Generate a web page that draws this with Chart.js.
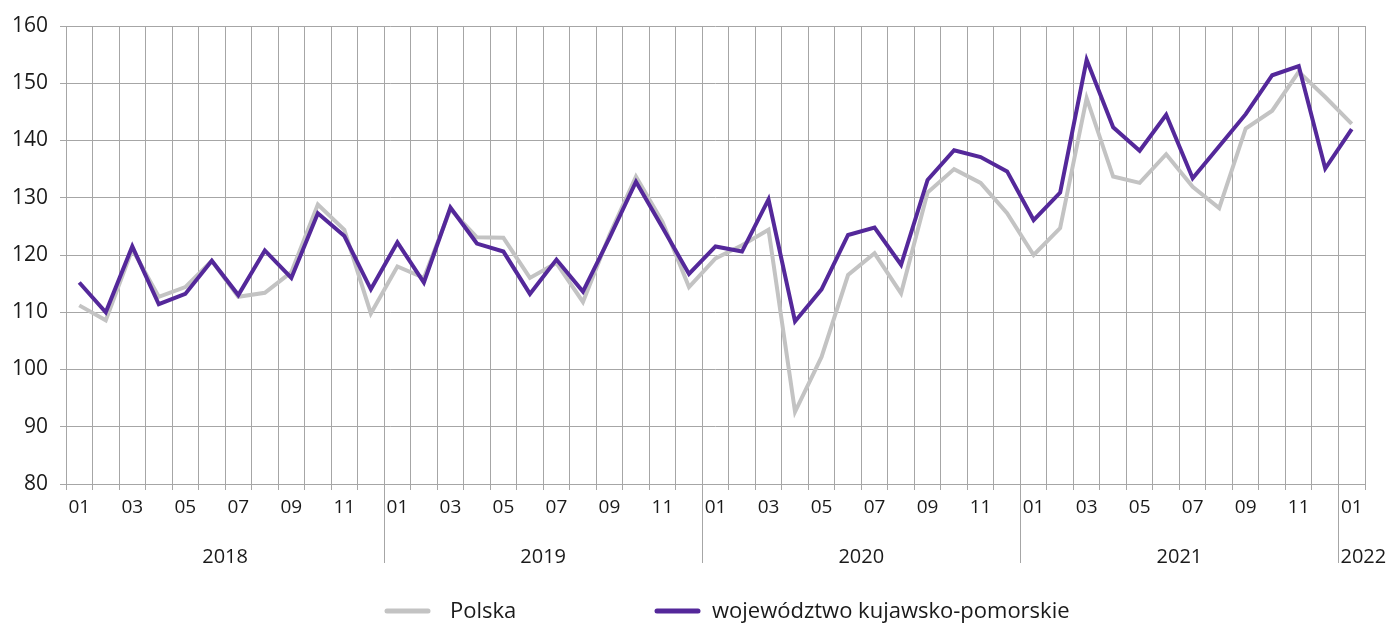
<!DOCTYPE html>
<html>
<head>
<meta charset="utf-8">
<script src="https://cdn.jsdelivr.net/npm/chart.js@4"></script>
<style>
  html, body { margin: 0; padding: 0; background: #fff; }
  #wrap { width: 1394px; height: 626px; }
</style>
</head>
<body>
<div id="wrap"><canvas id="chart" width="1394" height="626"></canvas></div>
<script>
const years = ['2018', '2019', '2020', '2021', '2022'];
const monthLabels = ['01', '02', '03', '04', '05', '06', '07', '08', '09', '10', '11', '12'];
const monthsInYear = [12, 12, 12, 12, 1];

const polska = [
  111.2, 108.6, 121.0, 112.7, 114.4, 119.0, 112.7, 113.4, 117.0, 128.8, 124.4, 109.8,
  118.0, 116.0, 128.0, 123.1, 123.0, 116.0, 118.6, 111.8, 123.5, 133.7, 125.8, 114.4,
  119.4, 121.7, 124.4, 92.6, 102.2, 116.5, 120.3, 113.3, 130.9, 135.0, 132.6, 127.3,
  120.0, 124.7, 147.4, 133.7, 132.6, 137.6, 131.9, 128.2, 142.1, 145.2, 152.0, 147.6,
  142.9
];
const kujawsko = [
  115.2, 110.0, 121.5, 111.4, 113.2, 119.0, 113.0, 120.8, 116.0, 127.3, 123.3, 114.0,
  122.2, 115.2, 128.3, 122.0, 120.6, 113.2, 119.2, 113.6, 123.0, 132.8, 124.8, 116.7,
  121.5, 120.6, 129.7, 108.4, 114.0, 123.5, 124.8, 118.3, 133.1, 138.3, 137.1, 134.6,
  126.1, 130.9, 154.1, 142.3, 138.2, 144.5, 133.4, 139.0, 144.6, 151.4, 153.0, 135.1,
  142.0
];

const seriesNames = ['Polska', 'województwo kujawsko-pomorskie'];
const seriesColors = ['#c3c3c3', '#54289a'];

// category labels: one per month
const categories = [];
years.forEach((y, yi) => {
  for (let m = 0; m < monthsInYear[yi]; m++) categories.push(monthLabels[m]);
});

const FONT = "'Open Sans', 'Noto Sans', sans-serif";
const GRID = '#a6a6a6';
const TEXT = '#1a1a1a';

// years row, separators and legend under the axis
const bottomPlugin = {
  id: 'bottomStuff',
  afterDraw(chart) {
    const ctx = chart.ctx;
    const x = chart.scales.x;
    const area = chart.chartArea;
    const step = x.getPixelForValue(1) - x.getPixelForValue(0);
    ctx.save();
    ctx.strokeStyle = GRID;
    ctx.lineWidth = 1;
    ctx.fillStyle = TEXT;
    ctx.font = '20px ' + FONT;
    ctx.textBaseline = 'middle';
    let idx = 0;
    years.forEach((y, yi) => {
      const left = x.getPixelForValue(idx) - step / 2;
      const right = x.getPixelForValue(idx + monthsInYear[yi] - 1) + step / 2;
      if (yi > 0) {
        ctx.beginPath();
        ctx.moveTo(Math.round(left) + 0.5, area.bottom);
        ctx.lineTo(Math.round(left) + 0.5, 563);
        ctx.stroke();
      }
      let cx = (left + right) / 2;
      const w = ctx.measureText(y).width;
      ctx.textAlign = 'center';
      if (cx - w / 2 < left + 2) cx = left + 2 + w / 2;
      ctx.fillText(y, cx, 557);
      idx += monthsInYear[yi];
    });

    // legend
    const items = [[385, 450], [655, 712]];
    ctx.font = '22px ' + FONT;
    ctx.textAlign = 'left';
    ctx.lineCap = 'round';
    items.forEach((it, i) => {
      ctx.strokeStyle = seriesColors[i];
      ctx.lineWidth = 5;
      ctx.beginPath();
      ctx.moveTo(it[0] + 2, 611);
      ctx.lineTo(it[0] + 43, 611);
      ctx.stroke();
      ctx.fillText(seriesNames[i], it[1], 612);
    });
    ctx.restore();
  }
};

new Chart(document.getElementById('chart'), {
  type: 'line',
  data: {
    labels: categories,
    datasets: [
      {
        label: seriesNames[0],
        data: polska,
        borderColor: seriesColors[0],
        borderWidth: 4,
        pointRadius: 0,
        tension: 0,
        order: 1
      },
      {
        label: seriesNames[1],
        data: kujawsko,
        borderColor: seriesColors[1],
        borderWidth: 4,
        pointRadius: 0,
        tension: 0,
        order: 0
      }
    ]
  },
  options: {
    responsive: false,
    animation: false,
    layout: { padding: { top: 26, right: 29, left: 0, bottom: 0 } },
    plugins: { legend: { display: false }, tooltip: { enabled: false } },
    scales: {
      x: {
        offset: true,
        grid: { offset: true, color: GRID, tickLength: 6, drawTicks: true },
        border: { color: GRID },
        ticks: {
          autoSkip: false,
          maxRotation: 0,
          padding: 6,
          color: TEXT,
          font: { family: FONT, size: 19 },
          callback: function (v, i) { return i % 2 === 0 ? categories[i] : ''; }
        },
        afterFit(scale) { scale.height = 142; }
      },
      y: {
        min: 80,
        max: 160,
        grid: { color: GRID, tickLength: 6 },
        border: { display: false },
        ticks: {
          stepSize: 10,
          padding: 12,
          color: TEXT,
          font: { family: FONT, size: 21 }
        },
        afterFit(scale) { scale.width = 66; }
      }
    }
  },
  plugins: [bottomPlugin]
});
</script>
</body>
</html>
